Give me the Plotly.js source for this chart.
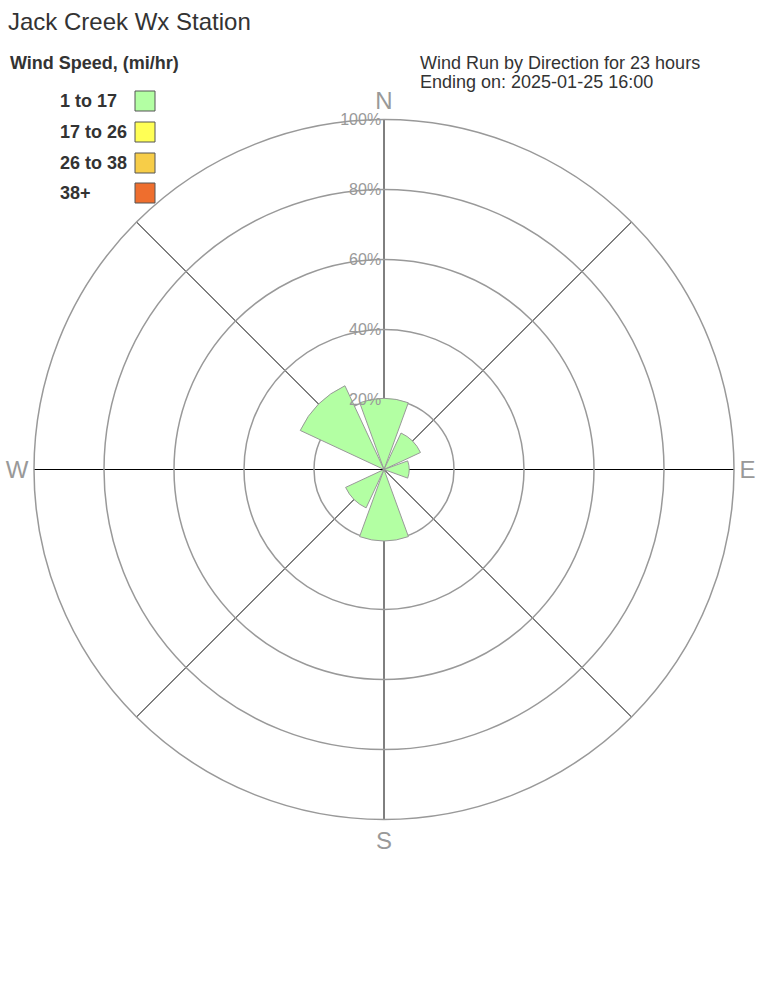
<!DOCTYPE html>
<html>
<head>
<meta charset="utf-8">
<script src="https://cdn.plot.ly/plotly-3.0.1.min.js"></script>
<style>
html,body{margin:0;padding:0;background:#fff;}
#chart{width:768px;height:1008px;}
</style>
</head>
<body>
<div id="chart"></div>
<script>
// Direction categories (degrees, compass)
var directions = [0, 45, 90, 135, 180, 225, 270, 315];
var dirLabels = ['N', '', 'E', '', 'S', '', 'W', ''];
// Speed bins
var speedBins = ['1 to 17', '17 to 26', '26 to 38', '38+'];
var speedColors = ['#B3FFA3', '#FFFF55', '#F7CD48', '#EE6E2E'];
// Percent of wind run per direction, per speed bin
var bin1 = [20.3, 11.5, 7.2, 0, 20.4, 12.1, 0, 26.4];
var bin2 = [0, 0, 0, 0, 0, 0, 0, 0];
var bin3 = [0, 0, 0, 0, 0, 0, 0, 0];
var bin4 = [0, 0, 0, 0, 0, 0, 0, 0];
var radialTicks = [20, 40, 60, 80, 100];
var radialTickText = ['20%', '40%', '60%', '80%', '100%'];

var series = [bin1, bin2, bin3, bin4];
var traces = series.map(function (vals, i) {
  return {
    type: 'barpolar',
    r: vals,
    theta: directions,
    width: 40,
    name: speedBins[i],
    marker: {color: speedColors[i], line: {color: '#999999', width: 1}},
    showlegend: false,
    hoverinfo: 'skip'
  };
});

var font = 'Liberation Sans, Arial, sans-serif';
var annotations = [
  {text: '<b>Wind Speed, (mi/hr)</b>', x: 8, y: 63, size: 18},
  {text: 'Wind Run by Direction for 23 hours', x: 418, y: 63, size: 18},
  {text: 'Ending on: 2025-01-25 16:00', x: 418, y: 82, size: 18}
];
var shapes = [];
var legY = [101, 132, 163, 193];
speedBins.forEach(function (lab, i) {
  annotations.push({text: '<b>' + lab + '</b>', x: 58, y: legY[i], size: 18});
  shapes.push({type: 'rect', x0: 135, x1: 155, y0: legY[i] - 10, y1: legY[i] + 10,
    fillcolor: speedColors[i], line: {color: '#555', width: 1}});
});
var W = 768, H = 1008;
annotations = annotations.map(function (a) {
  return {text: a.text, xref: 'paper', yref: 'paper', x: a.x / W, y: 1 - a.y / H,
    showarrow: false, xanchor: 'left', yanchor: 'middle',
    font: {family: font, size: a.size, color: '#333'}};
});
shapes.forEach(function (s) {
  s.xref = 'paper'; s.yref = 'paper'; s.x0 /= W; s.x1 /= W;
  var y0 = 1 - s.y1 / H, y1 = 1 - s.y0 / H; s.y0 = y0; s.y1 = y1;
});

var layout = {
  width: W, height: H,
  margin: {l: 0, r: 0, t: 0, b: 0},
  paper_bgcolor: '#fff',
  showlegend: false,
  title: {text: 'Jack Creek Wx Station', x: 8 / W, xanchor: 'left', y: 1 - 22 / H, yanchor: 'middle',
          font: {family: font, size: 24, color: '#333'}},
  annotations: annotations,
  shapes: shapes,
  polar: {
    domain: {x: [34 / W, 734 / W], y: [1 - 819.5 / H, 1 - 119.5 / H]},
    bgcolor: '#fff',
    barmode: 'stack',
    angularaxis: {
      rotation: 90, direction: 'clockwise',
      tickmode: 'array', tickvals: directions, ticktext: dirLabels,
      tickfont: {family: font, size: 24, color: '#999'},
      ticks: '', showline: true, linecolor: '#999', linewidth: 1.5,
      showgrid: true, gridcolor: '#000', gridwidth: 1
    },
    radialaxis: {
      range: [0, 100], angle: 90, tickangle: 90, side: 'counterclockwise',
      tickmode: 'array', tickvals: radialTicks, ticktext: radialTickText,
      tickfont: {family: font, size: 16, color: '#999'},
      ticks: '', showline: false, showgrid: true, gridcolor: '#999', gridwidth: 1.5
    }
  }
};

Plotly.newPlot('chart', traces, layout, {displayModeBar: false, staticPlot: true});
</script>
</body>
</html>
